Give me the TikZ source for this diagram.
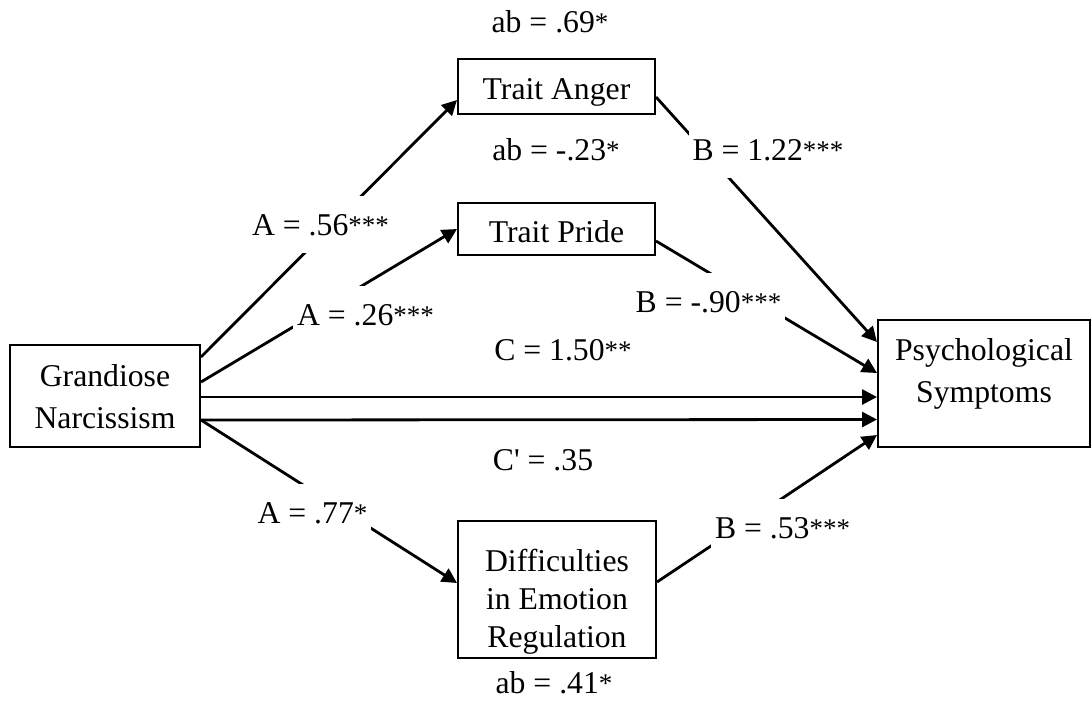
\documentclass[tikz,border=0pt]{standalone}
\usepackage{fontspec}
\setmainfont{Liberation Serif}
\usetikzlibrary{arrows.meta}
\newcommand{\sigstars}[1]{\raisebox{0.02em}{\fontsize{13.5}{13.5}\selectfont #1}}

\begin{document}
\begin{tikzpicture}[x=0.5pt,y=-0.5pt,
	font=\fontsize{15.85}{21}\selectfont,
	box/.style={draw, line width=1pt, inner sep=0pt},
	boxtext/.style={align=center, inner sep=0pt},
	link/.style={line width=1.4pt, -{Triangle[length=7.5pt,width=7.5pt]}},
	effect/.style={inner sep=0pt, anchor=base},
	coef/.style={effect, fill=white, inner xsep=2pt, inner ysep=9pt}]
	\useasboundingbox (0,0) rectangle (1092,708);
	\node[box, minimum width=95pt, minimum height=51pt] (gn) at (105,396) {};
	\node[box, minimum width=98.5pt, minimum height=27.5pt] (ta) at (556.5,86.5) {};
	\node[box, minimum width=98.5pt, minimum height=26pt] (tp) at (556.5,229) {};
	\node[box, minimum width=99pt, minimum height=68.5pt] (de) at (557,589.5) {};
	\node[box, minimum width=106pt, minimum height=63.5pt] (ps) at (984,383.5) {};
	\node[boxtext] (gntext) at (105,397) {Grandiose\\Narcissism};
	\node[boxtext] (tatext) at (556.5,92.8) {Trait Anger};
	\node[boxtext] (tptext) at (556.5,232) {Trait Pride};
	\node[boxtext, font=\fontsize{15.85}{19}\selectfont] (detext) at (557,601.6) {Difficulties\\in Emotion\\Regulation};
	\node[boxtext] (pstext) at (984,373.7) {Psychological\\Symptoms};
	\draw[link] ([yshift=19.5pt]gn.east) -- ([yshift=-6.75pt]ta.west);
	\draw[link] ([yshift=7pt]gn.east) -- (tp.west);
	\draw[link] ([yshift=-0.5pt]gn.east) -- ([yshift=-6.75pt]ps.west);
	\draw[link] ([yshift=-12pt]gn.east) -- ([yshift=-18pt]ps.west);
	\draw[link] ([yshift=-12pt]gn.east) -- ([yshift=3.25pt]de.west);
	\draw[link] ([yshift=-5.25pt]ta.east) -- ([yshift=20.75pt]ps.west);
	\draw[link] ([yshift=-6pt]tp.east) -- ([yshift=5.25pt]ps.west);
	\draw[link] ([yshift=3.75pt]de.east) -- ([yshift=-25.75pt]ps.west);
	\node[effect] (abta) at (550,32) {ab = .69\sigstars{*}};
	\node[effect] (abtp) at (556,160) {ab = -.23\sigstars{*}};
	\node[effect] (abde) at (554,693) {ab = .41\sigstars{*}};
	\node[coef] (ata) at (320.5,235) {A = .56\sigstars{***}};
	\node[coef] (atp) at (365.5,325) {A = .26\sigstars{***}};
	\node[coef] (ade) at (312.5,523) {A = .77\sigstars{*}};
	\node[coef] (bta) at (768,160) {B = 1.22\sigstars{***}};
	\node[coef] (btp) at (708.5,312) {B = -.90\sigstars{***}};
	\node[coef] (bde) at (782.5,538) {B = .53\sigstars{***}};
	\node[coef] (ctot) at (563,360) {C = 1.50\sigstars{**}};
	\node[coef] (cdir) at (543,470) {C\textquotesingle{} = .35};
\end{tikzpicture}
\end{document}
